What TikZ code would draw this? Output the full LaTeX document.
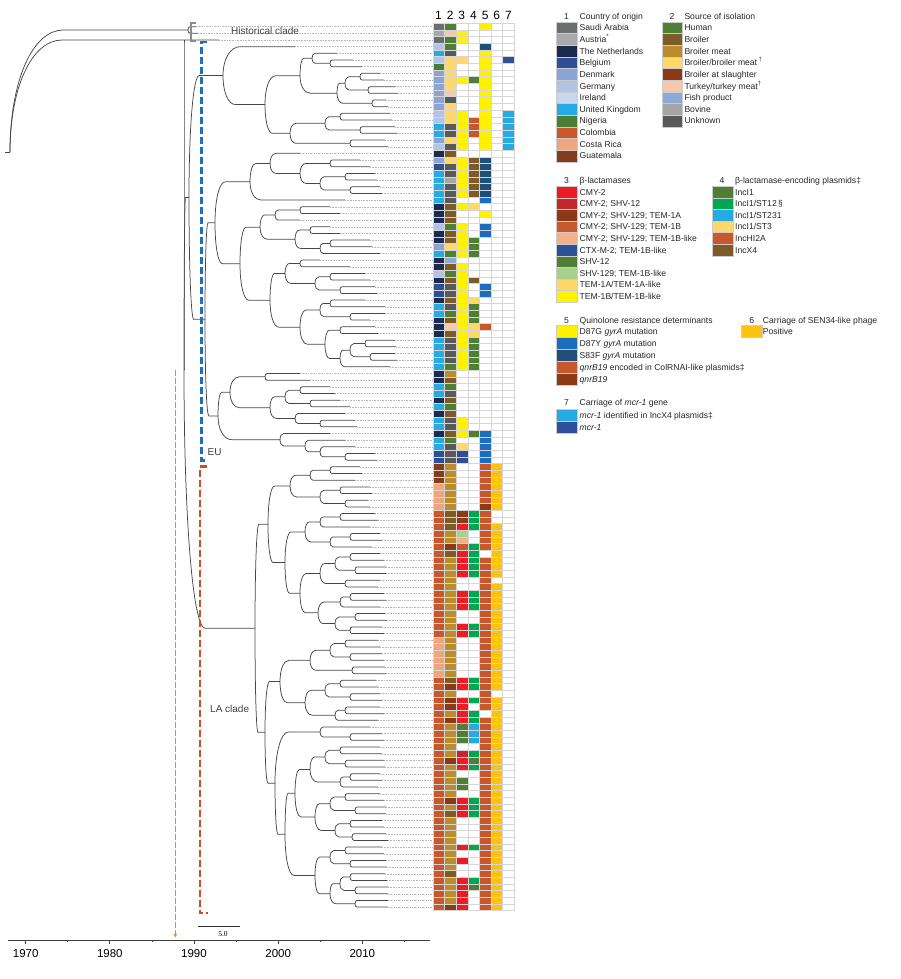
\documentclass[tikz,border=0pt]{standalone}
\usepackage{fontspec}
\setmainfont{Liberation Sans}
\newfontfamily\serifnum{Liberation Serif}
\usetikzlibrary{calc,arrows.meta}
% country
\definecolor{kSA}{HTML}{6D6E70}\definecolor{kAT}{HTML}{A7A9AC}\definecolor{kNL}{HTML}{1B2A4E}
\definecolor{kBE}{HTML}{2F4F95}\definecolor{kDK}{HTML}{8BA4D4}\definecolor{kDE}{HTML}{B2C3E6}
\definecolor{kIE}{HTML}{C9D7EE}\definecolor{kUK}{HTML}{27AAE1}\definecolor{kNG}{HTML}{4A7D35}
\definecolor{kCO}{HTML}{C8572B}\definecolor{kCR}{HTML}{F0A57C}\definecolor{kGT}{HTML}{843C1C}
% source
\definecolor{kHu}{HTML}{4F7F34}\definecolor{kBr}{HTML}{7D5A26}\definecolor{kBM}{HTML}{BB8D2A}
\definecolor{kBB}{HTML}{FED86A}\definecolor{kBS}{HTML}{8A3A17}\definecolor{kTK}{HTML}{F8C8AA}
\definecolor{kFi}{HTML}{8AAAD8}\definecolor{kBo}{HTML}{A5A5A5}\definecolor{kUn}{HTML}{58595B}
% beta-lactamases
\definecolor{kC2}{HTML}{ED1C24}\definecolor{kC2S}{HTML}{C1272D}\definecolor{kC2A}{HTML}{8A3A17}
\definecolor{kC2B}{HTML}{C8572B}\definecolor{kC2L}{HTML}{F3B08A}\definecolor{kCX}{HTML}{2F4F95}
\definecolor{kS12}{HTML}{4F7F34}\definecolor{kS129}{HTML}{A8D08D}\definecolor{kTA}{HTML}{FED86A}
\definecolor{kTB}{HTML}{FFF200}
% plasmids
\definecolor{kI1}{HTML}{4F7F34}\definecolor{kI12}{HTML}{00A651}\definecolor{kI231}{HTML}{27AAE1}
\definecolor{kI3}{HTML}{FED86A}\definecolor{kHI}{HTML}{C8572B}\definecolor{kX4}{HTML}{7D5A26}
% quinolone
\definecolor{kG}{HTML}{FFF200}\definecolor{kY}{HTML}{1C6DBF}\definecolor{kF}{HTML}{1F4E79}
\definecolor{kQ}{HTML}{C8572B}\definecolor{kQB}{HTML}{8A3A17}
\definecolor{kP}{HTML}{FFC20E}\definecolor{kM4}{HTML}{27AAE1}\definecolor{kM}{HTML}{2E4F9A}
\definecolor{kn}{HTML}{FFFFFF}
\definecolor{eublue}{HTML}{1E6FC0}\definecolor{lared}{HTML}{C8502A}\definecolor{arrowtan}{HTML}{D4952F}

\makeatletter
\newcommand\treeleaf[2]{%
  \pgfmathsetmacro\tmpy{19.97+6.67*#1}%
  \expandafter\xdef\csname NX-l#1\endcsname{#2}%
  \expandafter\xdef\csname NY-l#1\endcsname{\tmpy}%
  \coordinate (l#1) at (#2,\tmpy);
  \coordinate (e#1) at (432.7,\tmpy);
  \draw[lead] (l#1) -- (e#1);
}
\newcommand\elb[2]{%
  \pgfmathsetmacro\rr{min(0.3*(\csname NX-#2\endcsname-\csname NX-#1\endcsname),0.6*abs(\csname NY-#2\endcsname-\csname NY-#1\endcsname))}%
  \coordinate (bend) at ($(#1 |- #2)+(\rr,0)$);
  \draw[br] (#1) .. controls ($(#1)!0.58!(#1 |- #2)$) and ($(bend)!0.58!(#1 |- #2)$) .. (bend) -- (#2);
}
\newcommand\setnode[3]{% name x y
  \expandafter\xdef\csname NX-#1\endcsname{#2}%
  \expandafter\xdef\csname NY-#1\endcsname{#3}%
  \coordinate (#1) at (#2,#3);
}
\newcommand\nd[4]{% name x child1 child2
  \pgfmathsetmacro\tmpy{(\csname NY-#3\endcsname+\csname NY-#4\endcsname)/2}%
  \setnode{#1}{#2}{\tmpy}%
  \elb{#1}{#3}\elb{#1}{#4}%
}
\makeatother

\begin{document}
\begin{tikzpicture}[x=1pt,y=-1pt,
  br/.style={draw=black!72,line width=0.75pt},
  lead/.style={draw=black!28,line width=0.35pt,dash pattern=on 0.8pt off 0.8pt},
  cell/.style={draw=black!16,line width=0.35pt},
  sw/.style={draw=black!20,line width=0.3pt},
  lt/.style={anchor=base west,font=\fontsize{8.6}{10}\selectfont,inner sep=0pt,text=black!85},
  num/.style={anchor=base,font=\fontsize{8.6}{10}\selectfont,inner sep=0pt,text=black!85},
  hdr/.style={anchor=base,font=\fontsize{12}{13}\selectfont,inner sep=0pt},
  yr/.style={anchor=base,font=\fontsize{11.5}{13}\selectfont,inner sep=0pt},
  lab/.style={font=\fontsize{10}{12}\selectfont,inner sep=0pt,text=black!75,anchor=base west}]
\useasboundingbox (0,0) rectangle (900,979);

% ---------------- heat map ----------------
\foreach \k/\a/\b/\c/\d/\e/\f/\g in {
1/SA/Hu/n/n/G/n/n,2/AT/TK/TB/n/n/n/n,3/SA/Hu/TB/n/n/n/n,4/DE/Hu/n/n/F/n/n,5/UK/Un/n/n/G/n/n,
6/DE/BB/TA/n/G/n/M,7/NG/BB/n/n/G/n/n,8/DK/BB/n/n/G/n/n,9/DK/BB/TB/I1/G/n/n,10/DK/BB/n/n/G/n/n,
11/DK/TK/n/n/G/n/n,12/DK/Un/n/n/G/n/n,13/DK/BB/n/n/G/n/n,14/DE/BB/TB/n/G/n/M4,15/DE/BB/TB/HI/G/n/M4,
16/UK/Un/TB/HI/G/n/M4,17/UK/Un/TB/HI/G/n/M4,18/DK/BB/TB/n/G/n/M4,19/DE/Un/TB/n/G/n/M4,20/NL/Br/n/n/n/n/n,
21/DK/BB/TB/X4/F/n/n,22/BE/Un/TB/X4/F/n/n,23/UK/Un/TB/X4/F/n/n,24/UK/Bo/TB/X4/F/n/n,25/UK/Un/TB/X4/F/n/n,
26/UK/Un/TB/X4/F/n/n,27/UK/Un/n/n/Y/n/n,28/NL/Br/TB/I3/n/n/n,29/NL/Br/n/n/G/n/n,30/NL/Br/n/n/n/n/n,
31/DE/Hu/TB/n/Y/n/n,32/NL/Br/TB/n/Y/n/n,33/NL/Br/TB/I1/n/n/n,34/DK/BB/TB/I1/n/n/n,35/UK/Hu/TB/I1/n/n/n,
36/NL/Fi/n/n/n/n/n,37/NL/Br/TB/n/n/n/n,38/DE/Hu/TB/n/n/n/n,39/NL/Br/TB/X4/n/n/n,40/BE/Un/TB/n/Y/n/n,
41/BE/Un/TB/n/Y/n/n,42/NL/Br/TB/I3/n/n/n,43/UK/Un/TB/I1/n/n/n,44/UK/Hu/TB/I1/n/n/n,45/NL/Br/TB/I1/n/n/n,
46/NL/TK/TB/I3/Q/n/n,47/NL/Br/TB/I3/n/n/n,48/UK/Un/TB/I1/n/n/n,49/UK/Un/TB/I1/n/n/n,50/UK/Un/TB/I1/n/n/n,
51/UK/Un/TB/I1/n/n/n,52/UK/Hu/TB/I1/n/n/n,53/NL/BM/n/n/n/n/n,54/NL/Br/n/n/n/n/n,55/UK/Hu/n/n/n/n/n,
56/UK/Un/n/n/n/n/n,57/NL/Br/n/n/n/n/n,58/UK/Hu/n/n/n/n/n,59/NL/Br/n/n/n/n/n,60/UK/Un/TB/n/n/n/n,
61/UK/Un/TB/n/n/n/n,62/NL/Br/TB/I1/Y/n/n,63/UK/Hu/n/n/Y/n/n,64/UK/Un/TA/n/Y/n/n,65/BE/Un/CX/n/Y/n/n,
66/BE/Un/CX/n/Y/n/n,67/GT/BM/n/n/Q/P/n,68/GT/BM/n/n/Q/P/n,69/GT/BM/n/n/Q/P/n,70/CR/BM/n/n/Q/P/n,
71/CR/BM/n/n/Q/P/n,72/CR/BM/n/n/Q/P/n,73/CR/BM/n/n/QB/P/n,74/CO/Br/C2A/I12/Q/n/n,75/CO/Br/C2A/I12/Q/n/n,
76/CO/Br/C2/I12/Q/P/n,77/CO/BM/S129/n/Q/P/n,78/CO/BM/C2L/n/Q/P/n,79/CO/BS/C2B/I12/Q/P/n,80/CO/Br/C2/I12/n/P/n,
81/CO/BM/C2/I12/Q/P/n,82/CO/BM/C2/I12/Q/P/n,83/CO/BM/C2/I12/Q/P/n,84/CO/BM/n/n/Q/n/n,85/CO/BM/n/n/Q/P/n,
86/CO/BM/C2/I12/Q/P/n,87/CO/BM/C2/I12/Q/P/n,88/CO/BM/C2/I12/Q/P/n,89/CO/BM/n/n/Q/P/n,90/CO/BM/n/n/Q/P/n,
91/CO/BM/C2/I12/Q/P/n,92/CO/BM/C2/I12/Q/P/n,93/CR/BM/n/n/Q/P/n,94/CR/BM/n/n/Q/P/n,95/CR/BM/n/n/Q/P/n,
96/CR/BM/n/n/Q/P/n,97/CR/BM/n/n/Q/P/n,98/CR/BM/n/n/Q/P/n,99/CO/Br/C2/I12/Q/P/n,100/CO/BS/C2/I12/Q/P/n,
101/CO/BM/n/n/Q/n/n,102/CO/BS/C2/I12/Q/P/n,103/CO/BS/C2/n/Q/P/n,104/CO/BM/C2/I12/n/P/n,105/CO/BS/C2/I12/Q/P/n,
106/CO/BM/S12/I231/Q/P/n,107/CO/BM/S12/I231/Q/P/n,108/CO/BM/S12/I231/Q/P/n,109/CO/BM/n/n/Q/P/n,110/CO/BM/C2S/I12/Q/P/n,
111/CO/BS/C2/I1/Q/P/n,112/CO/BM/C2/I12/Q/P/n,113/CO/BM/n/n/Q/P/n,114/CO/BM/S12/n/Q/P/n,115/CO/BM/S12/n/Q/P/n,
116/CO/BM/n/n/Q/P/n,117/CO/BS/C2/I12/Q/P/n,118/CO/BM/C2/I12/Q/P/n,119/CO/Br/C2/I12/Q/P/n,120/CO/BM/n/n/Q/P/n,
121/CO/BM/n/n/Q/P/n,122/CO/BM/n/n/Q/P/n,123/CO/BM/n/n/Q/P/n,124/CO/BM/C2/I12/Q/P/n,125/CO/BM/n/n/Q/P/n,
126/CO/BM/C2/n/Q/P/n,127/CO/BM/n/n/Q/P/n,128/CO/Br/n/n/Q/P/n,129/CO/BM/C2/I12/Q/P/n,130/CO/BM/C2/I1/Q/P/n,
131/CO/BM/C2/n/Q/P/n,132/CO/BM/C2/n/Q/P/n,133/CO/BS/C2/n/Q/P/n}{
  \pgfmathsetmacro\yt{23.3+(\k-1)*6.67}
  \path[cell,fill=k\a] (432.7,\yt) rectangle ++(11.66,6.67);
  \path[cell,fill=k\b] (444.36,\yt) rectangle ++(11.66,6.67);
  \path[cell,fill=k\c] (456.02,\yt) rectangle ++(11.66,6.67);
  \path[cell,fill=k\d] (467.68,\yt) rectangle ++(11.66,6.67);
  \path[cell,fill=k\e] (479.34,\yt) rectangle ++(11.66,6.67);
  \path[cell,fill=k\f] (491.0,\yt) rectangle ++(11.66,6.67);
  \path[cell,fill=k\g] (502.66,\yt) rectangle ++(11.66,6.67);
}
\foreach \j in {1,...,7}{\node[hdr] (col\j) at (438.5+11.66*\j-11.66,19.5) {\j};}

% ---------------- tree (leaves) ----------------
\foreach \k/\x in {1/196,2/198,3/219,4/295,5/337,6/353,7/362,8/380,9/384,10/395,11/398,12/386,13/388,
14/390,15/392,16/395,17/397,18/385,19/388,20/300,21/360,22/370,23/375,24/377,25/380,26/382,27/345,
28/330,29/340,30/300,31/330,32/340,33/370,34/372,35/380,36/320,37/350,38/365,39/370,40/375,41/377,
42/365,43/385,44/385,45/370,46/375,47/378,48/395,49/396,50/395,51/397,52/390,53/300,54/310,55/330,
56/335,57/340,58/350,59/345,60/355,61/357,62/330,63/345,64/355,65/375,66/377,
67/360,68/362,69/355,70/370,71/372,72/368,73/370,74/375,75/378,76/370,77/380,78/382,79/372,80/380,
81/384,82/386,83/386,84/380,85/378,86/384,87/386,88/380,89/385,90/387,91/382,92/384,93/378,94/380,
95/382,96/384,97/385,98/386,99/376,100/378,101/380,102/382,103/380,104/384,105/378,106/370,107/382,
108/384,109/380,110/382,111/384,112/385,113/380,114/382,115/378,116/380,117/384,118/386,119/386,
120/382,121/384,122/386,123/388,124/382,125/384,126/386,127/387,128/385,129/387,130/388,131/388,
132/388,133/388}{\treeleaf{\k}{\x}}

% ---------------- tree (internal nodes) ----------------
% EU: group A1 (5-13)
\nd{a1}{330}{l6}{l7}\nd{a2}{312}{l5}{a1}\nd{a3}{360}{l8}{l9}\nd{a4}{368}{l10}{l11}
\nd{a5}{345}{a3}{a4}\nd{a6}{372}{l12}{l13}\nd{a7}{337}{a5}{a6}\nd{A1}{300}{a2}{a7}
% A2 (14-19)
\nd{b1}{340}{l14}{l15}\nd{b2}{360}{l16}{l17}\nd{b3}{325}{b1}{b2}\nd{b4}{350}{l18}{l19}\nd{A2}{290}{b3}{b4}
\nd{E1a}{265}{A1}{A2}\nd{E1}{223}{l4}{E1a}
% A3 (20-27)
\nd{c1}{330}{l21}{l22}\nd{c2}{345}{l23}{l24}\nd{c3}{350}{l25}{l26}\nd{c4}{320}{c2}{c3}
\nd{c5}{300}{c1}{c4}\nd{c6}{270}{l20}{c5}\nd{A3}{250}{c6}{l27}
% B (28-52)
\nd{d1}{300}{l28}{l29}\nd{d2}{275}{d1}{l30}\nd{d3}{310}{l31}{l32}\nd{d4}{330}{l33}{l34}
\nd{d5}{320}{d4}{l35}\nd{d6}{295}{d3}{d5}\nd{d7}{260}{d2}{d6}
\nd{d8}{300}{l36}{l37}\nd{d9}{330}{l38}{l39}\nd{d10}{340}{l40}{l41}\nd{d11}{315}{d9}{d10}\nd{d12}{285}{d8}{d11}
\nd{d13}{330}{l42}{l43}\nd{d14}{350}{l44}{l45}\nd{d15}{320}{d13}{d14}
\nd{d16}{340}{l46}{l47}\nd{d17}{365}{l48}{l49}\nd{d18}{370}{l50}{l51}\nd{d19}{350}{d17}{d18}
\nd{d20}{340}{d19}{l52}\nd{d21}{325}{d16}{d20}\nd{d22}{300}{d15}{d21}\nd{d23}{270}{d12}{d22}
\nd{B}{240}{d7}{d23}
% C (53-61)
\nd{cc1}{265}{l53}{l54}\nd{cc2}{300}{l55}{l56}\nd{cc3}{310}{l57}{l58}\nd{cc4}{285}{cc2}{cc3}
\nd{cc5}{320}{l60}{l61}\nd{cc6}{295}{l59}{cc5}\nd{cc7}{270}{cc4}{cc6}\nd{C}{230}{cc1}{cc7}
% D (62-66)
\nd{f1}{345}{l65}{l66}\nd{f2}{320}{l64}{f1}\nd{f3}{305}{l63}{f2}\nd{D}{280}{l62}{f3}
\nd{E2a}{215}{A3}{B}\nd{E2b}{218}{C}{D}\nd{E2}{205}{E2a}{E2b}
\nd{E0}{189}{E1}{E2}
% LA: G1 (67-73)
\nd{g1}{330}{l67}{l68}\nd{g2}{310}{g1}{l69}\nd{g3}{340}{l70}{l71}\nd{g4}{345}{l72}{l73}
\nd{g5}{320}{g3}{g4}\nd{G1}{290}{g2}{g5}
% G2 (74-92)
\nd{hh1}{340}{l74}{l75}\nd{hh2}{320}{hh1}{l76}\nd{hh3}{350}{l77}{l78}\nd{hh4}{330}{hh3}{l79}
\nd{hh5}{305}{hh2}{hh4}\nd{hh6}{350}{l80}{l81}\nd{hh7}{355}{l82}{l83}\nd{hh8}{335}{hh6}{hh7}
\nd{hh9}{345}{l84}{l85}\nd{hh10}{320}{hh8}{hh9}\nd{hh11}{350}{l86}{l87}\nd{hh12}{340}{hh11}{l88}
\nd{hh13}{355}{l89}{l90}\nd{hh14}{350}{l91}{l92}\nd{hh15}{335}{hh13}{hh14}\nd{hh16}{318}{hh12}{hh15}
\nd{hh17}{300}{hh10}{hh16}\nd{G2}{285}{hh5}{hh17}
% G3 (93-98)
\nd{i1}{345}{l93}{l94}\nd{i2}{350}{l95}{l96}\nd{i3}{330}{i1}{i2}\nd{i4}{352}{l97}{l98}\nd{G3}{310}{i3}{i4}
% G4 (99-105)
\nd{j1}{340}{l99}{l100}\nd{j2}{350}{l101}{l102}\nd{j3}{325}{j1}{j2}\nd{j4}{345}{l103}{l104}
\nd{j5}{335}{j4}{l105}\nd{G4}{305}{j3}{j5}
% G5 (106-108)
\nd{k1}{350}{l107}{l108}\nd{G5}{320}{l106}{k1}
% G6 (109-133)
\nd{m1}{340}{l109}{l110}\nd{m2}{345}{l111}{l112}\nd{m3}{325}{m1}{m2}\nd{m4}{350}{l113}{l114}
\nd{m5}{340}{m4}{l115}\nd{m6}{310}{m3}{m5}\nd{m7}{345}{l116}{l117}\nd{m8}{355}{l118}{l119}
\nd{m9}{330}{m7}{m8}\nd{m10}{350}{l120}{l121}\nd{m11}{352}{l122}{l123}\nd{m12}{335}{m10}{m11}
\nd{m13}{315}{m9}{m12}\nd{m14}{295}{m6}{m13}\nd{m15}{345}{l124}{l125}\nd{m16}{350}{l126}{l127}
\nd{m17}{330}{m15}{m16}\nd{m18}{350}{l128}{l129}\nd{m19}{355}{l130}{l131}\nd{m20}{340}{m18}{m19}
\nd{m21}{355}{l132}{l133}\nd{m22}{330}{m20}{m21}\nd{m23}{315}{m17}{m22}\nd{G6}{285}{m14}{m23}
\nd{LAd1}{280}{G3}{G4}\nd{LAd2}{275}{G5}{G6}\nd{LAd}{265}{LAd1}{LAd2}
\nd{LAu}{268}{G1}{G2}\nd{LA}{255}{LAu}{LAd}
% deep structure
\nd{H}{188}{l1}{l2}
\setnode{X}{184}{40}
\setnode{R}{184}{370}
\setnode{root}{10}{152}
\elb{R}{E0}\elb{R}{LA}
\elb{X}{l3}\elb{X}{R}
\elb{root}{H}\elb{root}{X}
\coordinate (rt0) at (5,152);
\draw[br] (rt0) -- (root);

% ---------------- brackets and labels ----------------
\coordinate (eu1) at (207,42.3);\coordinate (eu2) at (201.5,42.3);
\coordinate (eu3) at (201.5,460.5);\coordinate (eu4) at (207,460.5);
\draw[eublue,line width=2.3pt,dash pattern=on 7pt off 3pt] (eu1) -- (eu2) -- (eu3) -- (eu4);
\coordinate (la1) at (207,466.5);\coordinate (la2) at (200,466.5);
\coordinate (la3) at (200,913.3);\coordinate (la4) at (208,913.3);
\draw[lared,line width=2.3pt,dash pattern=on 7pt off 3pt] (la1) -- (la2) -- (la3) -- (la4);
\coordinate (hc1) at (196,23.5);\coordinate (hc2) at (190.5,23.5);
\coordinate (hc3) at (190.5,41.5);\coordinate (hc4) at (196,41.5);
\draw[black!45,line width=2pt] (hc1) -- (hc2) -- (hc3) -- (hc4);
\coordinate (ar1) at (175.3,370);\coordinate (ar2) at (175.3,937.5);
\draw[draw=arrowtan,line width=1.5pt,dash pattern=on 6pt off 2pt,-{Stealth[length=4pt,width=4pt,fill=arrowtan]}] (ar1) -- (ar2);
\node[lab] (hist) at (231,34.8) {Historical clade};
\node[lab] (eul) at (207.5,455.6) {EU};
\node[lab] (lal) at (210,712.6) {LA clade};

% ---------------- axis ----------------
\coordinate (ax0) at (8,940);\coordinate (ax1) at (430,940);
\draw[black!75,line width=0.8pt] (ax0) -- (ax1);
\foreach \yv [count=\i] in {1970,1980,1990,2000,2010}{
  \pgfmathsetmacro\xx{25.7+(\yv-1970)*8.415}
  \draw[black!75,line width=0.8pt] (\xx,940) -- (\xx,943.5);
  \node[yr] (yr\i) at (\xx,957.2) {\yv};}
\foreach \yv in {1975,1985,1995,2005,2015}{
  \pgfmathsetmacro\xx{25.7+(\yv-1970)*8.415}
  \draw[black!75,line width=0.8pt] (\xx,940) -- (\xx,942);}
\coordinate (sb0) at (198.3,926.7);\coordinate (sb1) at (240.3,926.7);
\draw[black!80,line width=0.8pt] (sb0) -- (sb1);
\node[anchor=base,font=\serifnum\fontsize{7.5}{8}\selectfont,inner sep=0pt] (sbl) at (223,936.8) {5.0};

% ---------------- legends ----------------
\node[num] (n1) at (566.5,19.4) {1};
\node[lt] (h1) at (579.5,19.4) {Country of origin};
\foreach \c/\t [count=\i] in {kSA/Saudi Arabia,kAT/{Austria\textsuperscript{*}},kNL/The Netherlands,kBE/Belgium,
  kDK/Denmark,kDE/Germany,kIE/Ireland,kUK/United Kingdom,kNG/Nigeria,kCO/Colombia,kCR/Costa Rica,kGT/Guatemala}{
  \pgfmathsetmacro\yy{27.7+(\i-1)*11.65}
  \path[sw,fill=\c] (556.2,\yy-5.8) rectangle (576.8,\yy+5.8);
  \node[lt] (g1-\i) at (579.5,\yy+3.1) {\t};}
\node[num] (n2) at (672,19.4) {2};
\node[lt] (h2) at (684.3,19.4) {Source of isolation};
\foreach \c/\t [count=\i] in {kHu/Human,kBr/Broiler,kBM/Broiler meat,kBB/{Broiler/broiler meat\,\textsuperscript{†}},
  kBS/Broiler at slaughter,kTK/{Turkey/turkey meat\textsuperscript{†}},kFi/Fish product,kBo/Bovine,kUn/Unknown}{
  \pgfmathsetmacro\yy{27.7+(\i-1)*11.65}
  \path[sw,fill=\c] (661.7,\yy-5.8) rectangle (682.3,\yy+5.8);
  \node[lt] (g2-\i) at (684.3,\yy+3.1) {\t};}
\node[num] (n3) at (566.5,183.1) {3};
\node[lt] (h3) at (579.5,183.1) {β-lactamases};
\foreach \c/\t [count=\i] in {kC2/CMY-2,kC2S/CMY-2; SHV-12,kC2A/CMY-2; SHV-129; TEM-1A,kC2B/CMY-2; SHV-129; TEM-1B,
  kC2L/CMY-2; SHV-129; TEM-1B-like,kCX/CTX-M-2; TEM-1B-like,kS12/SHV-12,kS129/SHV-129; TEM-1B-like,
  kTA/{TEM-1A/TEM-1A-like},kTB/{TEM-1B/TEM-1B-like}}{
  \pgfmathsetmacro\yy{191.9+(\i-1)*11.6}
  \path[sw,fill=\c] (556.2,\yy-5.8) rectangle (576.8,\yy+5.8);
  \node[lt] (g3-\i) at (579.5,\yy+3.1) {\t};}
\node[num] (n4) at (722,183.1) {4};
\node[lt] (h4) at (735,183.1) {β-lactamase-encoding plasmids‡};
\foreach \c/\t [count=\i] in {kI1/IncI1,kI12/{IncI1/ST12\,§},kI231/{IncI1/ST231},kI3/{IncI1/ST3},kHI/IncHI2A,kX4/IncX4}{
  \pgfmathsetmacro\yy{191.9+(\i-1)*11.6}
  \path[sw,fill=\c] (711.7,\yy-5.8) rectangle (732.7,\yy+5.8);
  \node[lt] (g4-\i) at (735,\yy+3.1) {\t};}
\node[num] (n5) at (566.5,323.8) {5};
\node[lt] (h5) at (579.5,323.8) {Quinolone resistance determinants};
\foreach \c/\t [count=\i] in {kG/D87G \textit{gyrA} mutation,kY/D87Y \textit{gyrA} mutation,kF/S83F \textit{gyrA} mutation,
  kQ/\textit{qnrB19} encoded in ColRNAI-like plasmids‡,kQB/\textit{qnrB19}}{
  \pgfmathsetmacro\yy{331.2+(\i-1)*11.95}
  \path[sw,fill=\c] (556.2,\yy-5.9) rectangle (576.8,\yy+5.9);
  \node[lt] (g5-\i) at (579.5,\yy+3.1) {\t};}
\node[num] (n6) at (751.7,323.8) {6};
\node[lt] (h6) at (762.7,323.8) {Carriage of SEN34-like phage};
\path[sw,fill=kP] (741,325.3) rectangle (761.7,337);
\node[lt] (g6-1) at (762.7,334.3) {Positive};
\node[num] (n7) at (566.5,405.4) {7};
\node[lt] (h7) at (579.5,405.4) {Carriage of \textit{mcr-1} gene};
\foreach \c/\t [count=\i] in {kM4/\textit{mcr-1} identified in IncX4 plasmids‡,kM/\textit{mcr-1}}{
  \pgfmathsetmacro\yy{415.3+(\i-1)*11.6}
  \path[sw,fill=\c] (556.2,\yy-5.8) rectangle (576.8,\yy+5.8);
  \node[lt] (g7-\i) at (579.5,\yy+3.1) {\t};}
\end{tikzpicture}
\end{document}
